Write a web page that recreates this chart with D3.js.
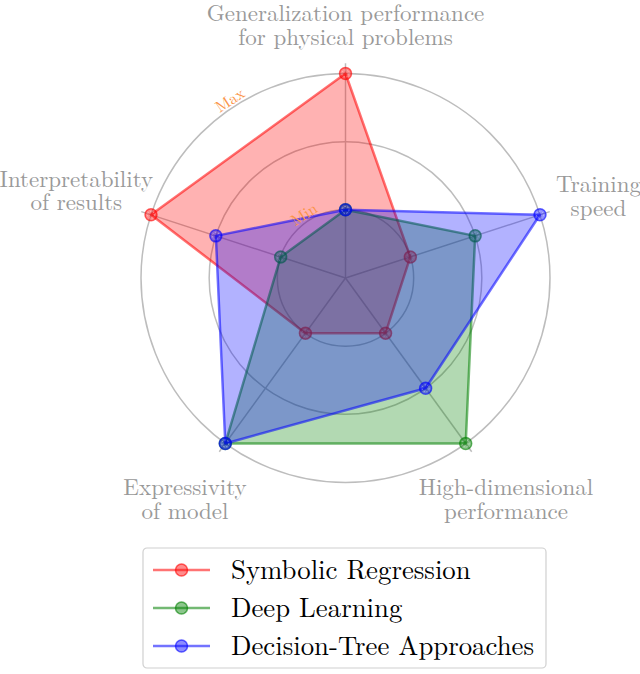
<!DOCTYPE html>
<html>
<head>
<meta charset="utf-8">
<script src="https://cdn.jsdelivr.net/npm/d3@7"></script>
<style>
  body { margin: 0; background: #fff; }
</style>
</head>
<body>
<div id="chart"></div>
<script>
// axes, clockwise from the top
var axes = [
  ["Generalization performance", "for physical problems"],
  ["Training", "speed"],
  ["High-dimensional", "performance"],
  ["Expressivity", "of model"],
  ["Interpretability", "of results"]
];
var series = ["Symbolic Regression", "Deep Learning", "Decision-Tree Approaches"];
var colors = ["#ff0000", "#008000", "#0000ff"];
// scores 1 = Min, 3 = Max
var symbolicRegression = [3, 1, 1, 1, 3];
var deepLearning = [1, 2, 3, 3, 1];
var decisionTree = [1, 3, 2, 3, 2];
var rings = [1, 2, 3];
var ringLabels = { 1: "Min", 3: "Max" };

var W = 640, H = 674;
var cx = 345.5, cy = 278;
var svg = d3.select("#chart").append("svg").attr("width", W).attr("height", H)
  .attr("font-family", "'Latin Modern Roman', 'Liberation Serif', serif");

var r = d3.scaleLinear().domain([0, 3]).range([0, 204.5]);
var n = axes.length;
// angle in radians, 0 at top, clockwise
var ang = d3.scaleLinear().domain([0, n]).range([0, 2 * Math.PI]);
function pt(i, v) {
  var a = ang(i);
  return [cx + r(v) * Math.sin(a), cy - r(v) * Math.cos(a)];
}

var g = svg.append("g");

// <---- grid ---->
g.selectAll(".ring").data(rings).enter().append("circle")
  .attr("cx", cx).attr("cy", cy)
  .attr("r", function(d) { return r(d); })
  .attr("fill", "none").attr("stroke", "#bdbdbd").attr("stroke-width", 1.5);

g.selectAll(".spoke").data(axes).enter().append("line")
  .attr("x1", cx).attr("y1", cy)
  .attr("x2", function(d, i) { return pt(i, 3.15)[0]; })
  .attr("y2", function(d, i) { return pt(i, 3.15)[1]; })
  .attr("stroke", "#bdbdbd").attr("stroke-width", 1.5);

// <---- axis labels ---->
var labelDist = [253, 266, 273, 273, 283];
axes.forEach(function(lines, i) {
  var a = ang(i);
  var x = cx + labelDist[i] * Math.sin(a), y = cy - labelDist[i] * Math.cos(a);
  lines.forEach(function(s, k) {
    g.append("text").attr("x", x)
      .attr("y", y + (k - 0.5) * 23.5).attr("dy", "0.35em")
      .attr("text-anchor", "middle")
      .attr("fill", "#999999").attr("font-size", 23)
      .text(s);
  });
});

// <---- series ---->
var data = [symbolicRegression, deepLearning, decisionTree];
var line = d3.line().x(function(d) { return d[0]; }).y(function(d) { return d[1]; });

data.forEach(function(vals, s) {
  var pts = vals.map(function(v, i) { return pt(i, v); });
  g.append("path")
    .attr("d", line(pts) + "Z")
    .attr("fill", colors[s]).attr("fill-opacity", 0.3)
    .attr("stroke", colors[s]).attr("stroke-opacity", 0.55)
    .attr("stroke-width", 2.5).attr("stroke-linejoin", "round");
  var m = g.selectAll(".m" + s).data(pts).enter().append("g")
    .attr("transform", function(d) { return "translate(" + d[0] + "," + d[1] + ")"; });
  m.append("circle").attr("r", 6)
    .attr("fill", colors[s]).attr("fill-opacity", 0.45)
    .attr("stroke", colors[s]).attr("stroke-opacity", 0.6).attr("stroke-width", 1.5);
  m.append("circle").attr("r", 3.5).attr("fill", "none")
    .attr("stroke", "#fff").attr("stroke-opacity", 0.45).attr("stroke-width", 0.8)
    .attr("stroke-dasharray", "1.5,1.5");
});

// Min / Max labels along the rings, between the first and last axis (on top)
var labA = -33 * Math.PI / 180;
rings.filter(function(d) { return ringLabels[d]; }).forEach(function(d) {
  var rr = r(d) + 8;
  var x = cx + rr * Math.sin(labA), y = cy - rr * Math.cos(labA);
  g.append("text")
    .attr("transform", "translate(" + x + "," + y + ") rotate(-33)")
    .attr("text-anchor", "middle").attr("dy", "0.35em")
    .attr("fill", "#fb9448").attr("font-size", 16)
    .text(ringLabels[d]);
});

// <---- legend ---->
var lg = svg.append("g").attr("transform", "translate(143,548)");
lg.append("rect").attr("width", 403).attr("height", 120).attr("rx", 4)
  .attr("fill", "#fff").attr("fill-opacity", 0.8)
  .attr("stroke", "#d0d0d0").attr("stroke-width", 1.2);
var rows = lg.selectAll(".row").data(series).enter().append("g")
  .attr("transform", function(d, i) { return "translate(0," + (22 + i * 38) + ")"; });
rows.append("line").attr("x1", 10).attr("x2", 67)
  .attr("stroke", function(d, i) { return colors[i]; })
  .attr("stroke-opacity", 0.55).attr("stroke-width", 2.5);
rows.append("circle").attr("cx", 38.5).attr("r", 6)
  .attr("fill", function(d, i) { return colors[i]; }).attr("fill-opacity", 0.45)
  .attr("stroke", function(d, i) { return colors[i]; })
  .attr("stroke-opacity", 0.6).attr("stroke-width", 1.5);
rows.append("text").attr("x", 88).attr("dy", "0.35em")
  .attr("font-size", 26.8).attr("fill", "#000")
  .text(function(d) { return d; });
</script>
</body>
</html>
